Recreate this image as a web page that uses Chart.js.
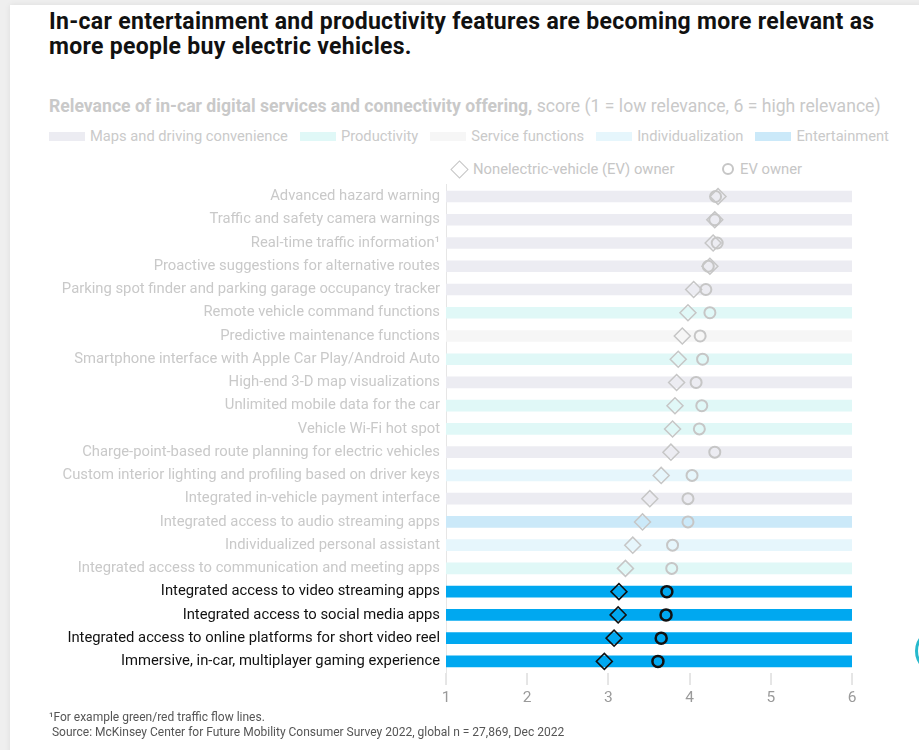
<!DOCTYPE html>
<html>
<head>
<meta charset="utf-8">
<script src="https://cdn.jsdelivr.net/npm/chart.js@4.4.0/dist/chart.umd.min.js"></script>
<style>
  html, body { margin: 0; padding: 0; }
  body { width: 919px; height: 750px; background: #efefef; overflow: hidden; font-family: Roboto, "Noto Sans", sans-serif; }
  .card { position: absolute; left: 10px; top: 5px; width: 920px; height: 760px; background: #fff; box-shadow: 0 0 6px rgba(0,0,0,0.08); }
  .title { position: absolute; left: 49px; top: 9px; width: 860px; font-size: 23px; font-weight: 700; line-height: 25px; letter-spacing: 0.3px; color: #111; }
  .sub { position: absolute; left: 49px; top: 96px; font-size: 17.6px; color: #c9c9c9; white-space: nowrap; }
  .sub b { font-weight: 700; }
  .legend { position: absolute; left: 49px; top: 127px; font-size: 14.7px; color: #cacaca; white-space: nowrap; display: flex; align-items: center; }
  .legend .sw { display: inline-block; width: 36px; height: 9px; margin-right: 5px; }
  .legend .item { display: flex; align-items: center; margin-right: 12px; }
  .pleg { position: absolute; top: 160px; font-size: 14.8px; color: #c6c6c6; white-space: nowrap; display: flex; align-items: center; }
  .diamond { width: 11px; height: 11px; border: 1.5px solid #c6c6c6; transform: rotate(45deg); margin: 0 7px 0 3px; }
  .circ { width: 8px; height: 8px; border: 2.5px solid #c6c6c6; border-radius: 50%; margin-right: 6px; }
  .chartbox { position: absolute; left: 0; top: 170px; }
  .foot { position: absolute; left: 49px; top: 710px; font-size: 12px; line-height: 15px; color: #555; }
  .bubble { position: absolute; left: 915px; top: 628px; width: 40px; height: 40px; border-radius: 50%; border: 3px solid #27b9cc; }
</style>
</head>
<body>
<div class="card"></div>
<div class="title">In-car entertainment and productivity features are becoming more relevant as more people buy electric vehicles.</div>
<div class="sub"><b>Relevance of in-car digital services and connectivity offering,</b> score (1 = low relevance, 6 = high relevance)</div>
<div class="legend" id="legend"></div>
<div class="pleg" style="left:450px"><span class="diamond"></span>Nonelectric-vehicle (EV) owner</div>
<div class="pleg" style="left:722px"><span class="circ"></span>EV owner</div>
<div class="chartbox"><canvas id="chart" width="862" height="543"></canvas></div>
<div class="foot">¹For example green/red traffic flow lines.<br>&nbsp;Source: McKinsey Center for Future Mobility Consumer Survey 2022, global n = 27,869, Dec 2022</div>
<div class="bubble"></div>

<script>
// data
const categories = [
  "Advanced hazard warning",
  "Traffic and safety camera warnings",
  "Real-time traffic information¹",
  "Proactive suggestions for alternative routes",
  "Parking spot finder and parking garage occupancy tracker",
  "Remote vehicle command functions",
  "Predictive maintenance functions",
  "Smartphone interface with Apple Car Play/Android Auto",
  "High-end 3-D map visualizations",
  "Unlimited mobile data for the car",
  "Vehicle Wi-Fi hot spot",
  "Charge-point-based route planning for electric vehicles",
  "Custom interior lighting and profiling based on driver keys",
  "Integrated in-vehicle payment interface",
  "Integrated access to audio streaming apps",
  "Individualized personal assistant",
  "Integrated access to communication and meeting apps",
  "Integrated access to video streaming apps",
  "Integrated access to social media apps",
  "Integrated access to online platforms for short video reel",
  "Immersive, in-car, multiplayer gaming experience"
];
const groups = [
  "maps", "maps", "maps", "maps", "maps",
  "productivity", "service", "productivity", "maps", "productivity",
  "productivity", "maps", "individual", "maps", "entertainment",
  "individual", "productivity",
  "entertainment", "entertainment", "entertainment", "entertainment"
];
const highlighted = [
  false, false, false, false, false, false, false, false, false, false, false,
  false, false, false, false, false, false, true, true, true, true
];
const nonEvOwner = [4.35, 4.31, 4.29, 4.25, 4.05, 3.98, 3.91, 3.86, 3.84, 3.82, 3.79,
  3.77, 3.65, 3.51, 3.42, 3.30, 3.21, 3.13, 3.12, 3.07, 2.95];
const evOwner = [4.32, 4.31, 4.34, 4.23, 4.20, 4.25, 4.13, 4.16, 4.08, 4.15, 4.12,
  4.31, 4.03, 3.98, 3.98, 3.79, 3.78, 3.72, 3.71, 3.65, 3.61];
const xTicks = [1, 2, 3, 4, 5, 6];

const legendGroups = [
  ["maps", "Maps and driving convenience"],
  ["productivity", "Productivity"],
  ["service", "Service functions"],
  ["individual", "Individualization"],
  ["entertainment", "Entertainment"]
];
const groupColor = {
  maps: "#ececf2",
  productivity: "#e0f8f7",
  service: "#f6f6f6",
  individual: "#e6f6fc",
  entertainment: "#cbe9f9"
};
const hiBar = "#00a8f0";
const dimMark = "#c6c6c6";
const hiMark = "#111111";

// html legend
const leg = document.getElementById("legend");
legendGroups.forEach(([k, name]) => {
  const it = document.createElement("span");
  it.className = "item";
  it.innerHTML = `<span class="sw" style="background:${groupColor[k]}"></span>${name}`;
  leg.appendChild(it);
});

const barColors = groups.map((g, i) => highlighted[i] ? hiBar : groupColor[g]);
const markColors = highlighted.map(h => h ? hiMark : dimMark);

const ctx = document.getElementById("chart").getContext("2d");
new Chart(ctx, {
  type: "bar",
  data: {
    labels: categories,
    datasets: [
      {
        type: "line",
        label: "EV owner",
        data: evOwner,
        indexAxis: "y",
        showLine: false,
        pointStyle: "circle",
        pointRadius: 5.5,
        pointBorderWidth: highlighted.map(h => h ? 2.5 : 2),
        pointBackgroundColor: "rgba(0,0,0,0)",
        pointBorderColor: markColors,
        order: 1
      },
      {
        type: "line",
        label: "Nonelectric-vehicle (EV) owner",
        data: nonEvOwner,
        indexAxis: "y",
        showLine: false,
        pointStyle: "rectRot",
        pointRadius: 8,
        pointBorderWidth: 1.5,
        pointBackgroundColor: "rgba(0,0,0,0)",
        pointBorderColor: markColors,
        order: 2
      },
      {
        label: "range",
        data: categories.map(() => [1, 6]),
        backgroundColor: barColors,
        barThickness: 11,
        order: 3
      }
    ]
  },
  options: {
    indexAxis: "y",
    responsive: false,
    animation: false,
    events: [],
    layout: { padding: { top: 10, right: 10, left: 0, bottom: 0 } },
    plugins: { legend: { display: false }, tooltip: { enabled: false } },
    scales: {
      x: {
        type: "linear",
        min: 1,
        max: 6,
        z: 1,
        afterBuildTicks: s => { s.ticks = xTicks.map(v => ({ value: v })); },
        afterFit: s => { s.height = 40; },
        grid: {
          color: "#ffffff",
          lineWidth: 2,
          tickColor: "#cccccc",
          tickWidth: 1,
          tickLength: 12,
          drawTicks: true
        },
        border: { display: false },
        ticks: {
          color: "#9a9a9a",
          padding: 4,
          font: { size: 15.5, family: "Roboto" }
        }
      },
      y: {
        afterFit: s => { s.width = 446; },
        grid: { display: false, drawTicks: false },
        border: { display: true, color: "#e6e6e6", width: 1 },
        ticks: {
          padding: 6,
          autoSkip: false,
          color: c => highlighted[c.index] ? "#111111" : "#c9c9c9",
          font: { size: 14.8, family: "Roboto" }
        }
      }
    }
  }
});
</script>
</body>
</html>
